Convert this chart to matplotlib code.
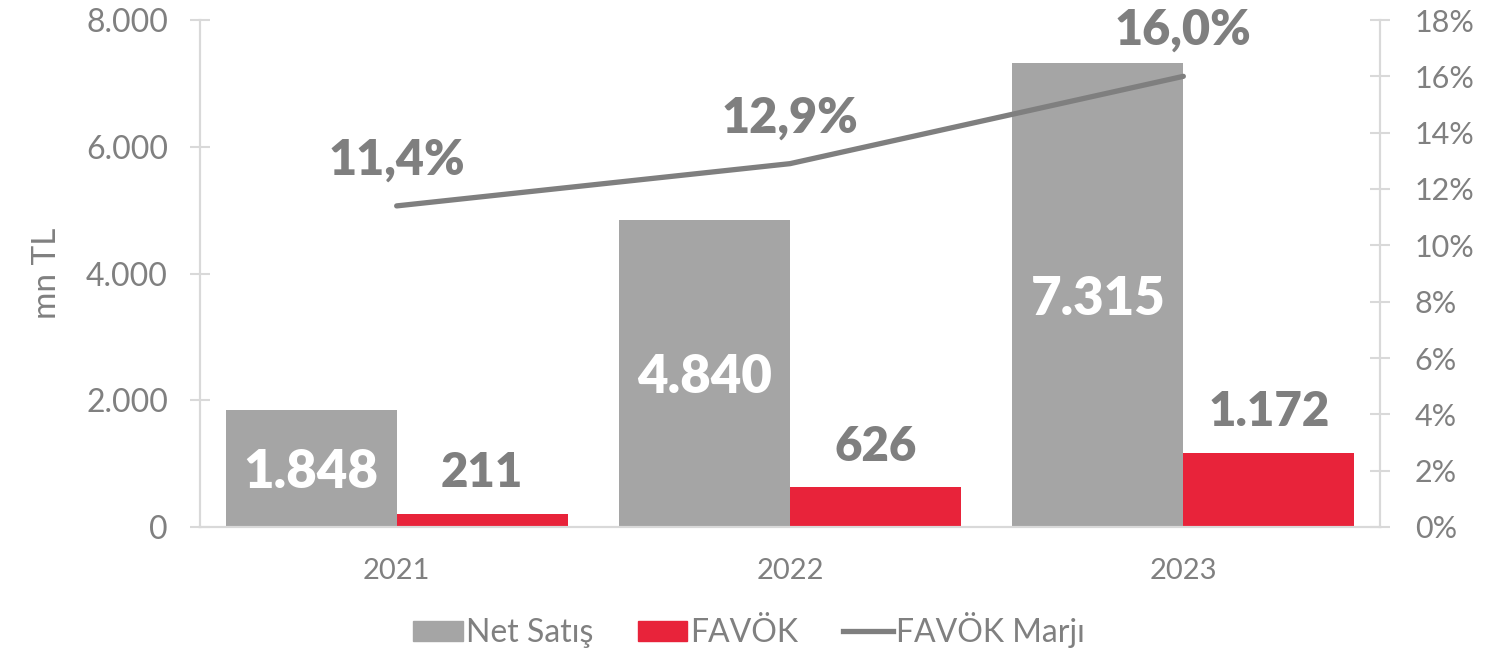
import matplotlib
matplotlib.use("Agg")
import matplotlib.pyplot as plt
from matplotlib.ticker import FuncFormatter, FixedLocator
from matplotlib.patches import Patch
from matplotlib.lines import Line2D
import numpy as np

years = ["2021", "2022", "2023"]
net_satis = [1848, 4840, 7315]
favok = [211, 626, 1172]
marj = [11.4, 12.9, 16.0]

GRAY = "#a5a5a5"
RED = "#e8233a"
LINE = "#7f7f7f"
TXT = "#808080"
SPINE = "#d9d9d9"

plt.rcParams['font.family'] = ['Lato', 'DejaVu Sans']

fig = plt.figure(figsize=(14.98, 6.55), dpi=100)
ax = fig.add_axes([200/1498, 1-527/655, 1180/1498, 507/655])
ax2 = ax.twinx()

x = np.arange(len(years))
w = 0.435
b1 = ax.bar(x - w/2, net_satis, w, color=GRAY, zorder=2)
b2 = ax.bar(x + w/2, favok, w, color=RED, zorder=2)

ax.set_xlim(-0.5, 2.5)
ax.set_ylim(0, 8000)
ax.yaxis.set_major_locator(FixedLocator([0, 2000, 4000, 6000, 8000]))
fmt = lambda v, p: f"{v:,.0f}".replace(",", ".")
ax.yaxis.set_major_formatter(FuncFormatter(fmt))
ax.set_xticks(x)
ax.set_xticklabels(years)
ax.tick_params(axis='x', length=0, labelsize=21, labelcolor=TXT, pad=22)
ax.tick_params(axis='y', direction='inout', length=14, width=1.5, color=SPINE,
               labelsize=23, labelcolor=TXT, pad=16)
ax.set_ylabel("mn TL", fontsize=24, color=TXT, labelpad=17)

ax2.set_ylim(0, 18)
ax2.yaxis.set_major_locator(FixedLocator(list(range(0, 19, 2))))
ax2.yaxis.set_major_formatter(FuncFormatter(lambda v, p: f"{v:.0f}%"))
ax2.tick_params(axis='y', direction='inout', length=14, width=1.5, color=SPINE,
                labelsize=22, labelcolor=TXT, pad=18)

for a in (ax, ax2):
    a.spines['top'].set_visible(False)
    for s in ('left', 'right', 'bottom'):
        a.spines[s].set_color(SPINE)
        a.spines[s].set_linewidth(1.5)

ax2.plot(x, marj, color=LINE, lw=3.8, solid_capstyle='round', zorder=3)

for xi, v in zip(x, marj):
    ax2.annotate(f"{v:.1f}%".replace(".", ","), (xi, v), xytext=(0, 33),
                 textcoords='offset points', ha='center', va='center',
                 fontsize=35, fontweight='heavy', color=LINE)

for rect, v in zip(b1, net_satis):
    ax.annotate(fmt(v, None), (rect.get_x() + rect.get_width()/2, v/2), xytext=(0, -3),
                textcoords='offset points',
                ha='center', va='center', fontsize=38, fontweight='heavy', color='white')

for rect, v in zip(b2, favok):
    ax.annotate(fmt(v, None), (rect.get_x() + rect.get_width()/2, v), xytext=(0, 29),
                textcoords='offset points', ha='center', va='center',
                fontsize=34, fontweight='heavy', color=LINE)

handles = [Patch(color=GRAY), Patch(color=RED), Line2D([], [], color=LINE, lw=3.8)]
fig.legend(handles, ["Net Satış", "FAVÖK", "FAVÖK Marjı"], loc='center',
           bbox_to_anchor=(0.5, 1-630/655), ncol=3, frameon=False, fontsize=23,
           labelcolor=TXT, handlelength=1.55, handletextpad=0.1, columnspacing=1.4,
           handleheight=0.6)

fig.savefig("out.png", dpi=100)
